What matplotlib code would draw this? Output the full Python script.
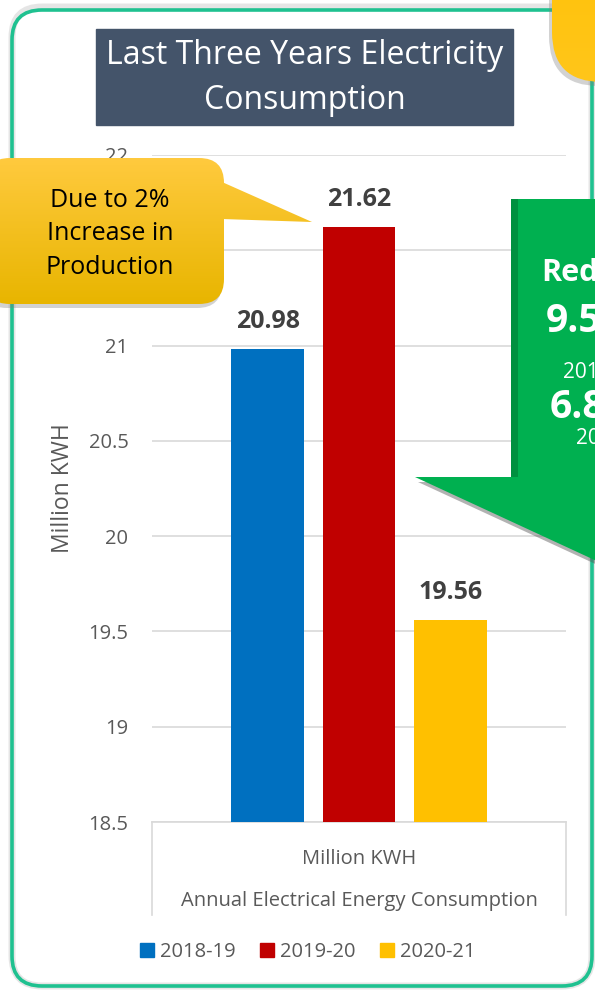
import matplotlib
matplotlib.use('Agg')
import matplotlib.pyplot as plt
from matplotlib.patches import FancyBboxPatch, Polygon, Rectangle, Patch
from matplotlib.colors import LinearSegmentedColormap
import numpy as np

### chart data
years = ['2018-19', '2019-20', '2020-21']
consumption = [20.98, 21.62, 19.56]
bar_colors = ['#0070C0', '#C00000', '#FFC000']
category = 'Million KWH'
yticks = [18.5, 19, 19.5, 20, 20.5, 21, 21.5, 22]
title_text = 'Last Three Years Electricity\nConsumption'
callout_text = 'Due to 2%\nIncrease in\nProduction'
arrow_lines = ['Reduction', '9.5%', '2019-20', '6.8%', '2018-19']

W, H = 595, 990
GREY = '#595959'
plt.rcParams['font.family'] = ['Open Sans', 'DejaVu Sans']

fig = plt.figure(figsize=(W / 100, H / 100), dpi=100)


def px_box(x0, y0, x1, y1):
    # pixel box (top-left origin) -> figure fraction rect
    return [x0 / W, 1 - y1 / H, (x1 - x0) / W, (y1 - y0) / H]


### the bar chart itself
ax = fig.add_axes(px_box(152, 155, 566, 822))
ax.set_zorder(1)
offsets = [-0.22, 0.0, 0.22]
for name, val, col, off in zip(years, consumption, bar_colors, offsets):
    bars = ax.bar(0.5 + off, val, width=0.176, color=col, label=name, zorder=3)
    ax.bar_label(bars, fmt='%.2f', padding=11, fontsize=18,
                 fontweight='bold', color='#404040')

ax.set_xlim(0, 1)
ax.set_ylim(18.5, 22)
ax.set_yticks(yticks, [f'{v:g}' for v in yticks])
ax.set_xticks([0.5], [category])
ax.tick_params(axis='both', length=0, labelsize=14.5, labelcolor=GREY)
ax.tick_params(axis='y', pad=17)
ax.tick_params(axis='x', pad=19.5)
ax.set_xlabel('Annual Electrical Energy Consumption', fontsize=14.5,
              color=GREY, labelpad=15.5)
ax.set_ylabel('Million KWH', fontsize=16.5, color=GREY)
ax.yaxis.set_label_coords(-0.185, 0.5)
ax.yaxis.grid(True, color='#D9D9D9', lw=1.2, zorder=0)
for s in ['top', 'left', 'right']:
    ax.spines[s].set_visible(False)
ax.spines['bottom'].set_color('#D9D9D9')
ax.spines['bottom'].set_linewidth(1.2)
# side walls of the category box below the axis
for xx in (0, 1):
    ax.plot([xx, xx], [0, -0.14], transform=ax.transAxes, clip_on=False,
            color='#D9D9D9', lw=1.2)

handles = [Patch(color=c, label=n) for c, n in zip(bar_colors, years)]
fig.legend(handles=handles, loc='center', bbox_to_anchor=(308 / W, 1 - 952 / H),
           ncol=3, frameon=False, fontsize=14.5, labelcolor=GREY,
           handlelength=0.7, handleheight=0.7, handletextpad=0.3,
           columnspacing=1.2)

### overlay in pixel coordinates for the slide decorations
ov = fig.add_axes([0, 0, 1, 1])
ov.set_zorder(5)
ov.patch.set_alpha(0)
ov.axis('off')


def gradient_fill(patch, c_top, c_bot, extent, z):
    patch.set_zorder(z)
    ov.add_patch(patch)
    cmap = LinearSegmentedColormap.from_list('g', [c_top, c_bot])
    im = ov.imshow(np.linspace(0, 1, 256)[:, None], cmap=cmap, extent=extent,
                   aspect='auto', origin='upper', zorder=z, interpolation='bilinear')
    im.set_clip_path(patch)


# slide frame
ov.add_patch(FancyBboxPatch((12, 7), 580, 979, boxstyle='round,pad=0,rounding_size=30',
                            fc='none', ec='#CCCCCC', lw=5, alpha=0.5, zorder=1))
ov.add_patch(FancyBboxPatch((12, 10), 580, 976, boxstyle='round,pad=0,rounding_size=30',
                            fc='none', ec='#1FC190', lw=2.6, zorder=2))

# title banner
ov.add_patch(Rectangle((96, 29), 417, 96, color='#44546A', zorder=3))
ov.text(304.5, 78, title_text, color='white', fontsize=23, ha='center', va='center',
        linespacing=1.48, zorder=4)

# yellow blob in the top right corner
ov.add_patch(FancyBboxPatch((549, -117), 220, 203, boxstyle='round,pad=0,rounding_size=50',
                            fc='#7F7F7F', ec='none', alpha=0.35, zorder=5))
gradient_fill(FancyBboxPatch((552, -120), 220, 202, boxstyle='round,pad=0,rounding_size=50',
                             fc='none', ec='none'),
              '#FFC000', '#FFC61A', (552, 772, 82, -120), 6)

# callout on the left
ov.add_patch(FancyBboxPatch((-18, 162), 240, 146, boxstyle='round,pad=0,rounding_size=25',
                            fc='#7F7F7F', ec='none', alpha=0.35, zorder=7))
gradient_fill(FancyBboxPatch((-15, 158), 239, 146, boxstyle='round,pad=0,rounding_size=25',
                             fc='none', ec='none'),
              '#FFCA3E', '#E8B500', (-15, 224, 304, 158), 8)
gradient_fill(Polygon([(222, 182), (312, 222), (222, 219)], closed=True, fc='none', ec='none'),
              '#FFCA3E', '#E8B500', (-15, 312, 304, 158), 8)
ov.text(110, 234, callout_text, fontsize=18, color='black', ha='center', va='center',
        linespacing=1.46, zorder=9)

# green down arrow on the right
arrow = [(511, 199), (769, 199), (769, 477), (865, 477), (640, 581), (415, 477), (511, 477)]
ov.add_patch(Polygon([(x + 3, y + 5) for x, y in arrow], closed=True, fc='#555555',
                     ec='none', alpha=0.45, zorder=10))
ov.add_patch(Polygon(arrow, closed=True, fc='#00B050', ec='none', zorder=11))
ov.add_patch(Rectangle((511, 199), 7, 278, fc='#009040', ec='none', zorder=11))
ov.text(541, 273, arrow_lines[0], fontsize=22, fontweight='bold', color='white',
        ha='left', va='center', zorder=12)
ov.text(546, 322, arrow_lines[1], fontsize=28, fontweight='bold', color='white',
        ha='left', va='center', zorder=12)
ov.text(563, 372, arrow_lines[2], fontsize=15, color='white', ha='left', va='center', zorder=12)
ov.text(550, 407, arrow_lines[3], fontsize=28, fontweight='bold', color='white',
        ha='left', va='center', zorder=12)
ov.text(576, 438, arrow_lines[4], fontsize=15, color='white', ha='left', va='center', zorder=12)

ov.set_xlim(0, W)
ov.set_ylim(H, 0)

fig.savefig('out.png', dpi=100)
